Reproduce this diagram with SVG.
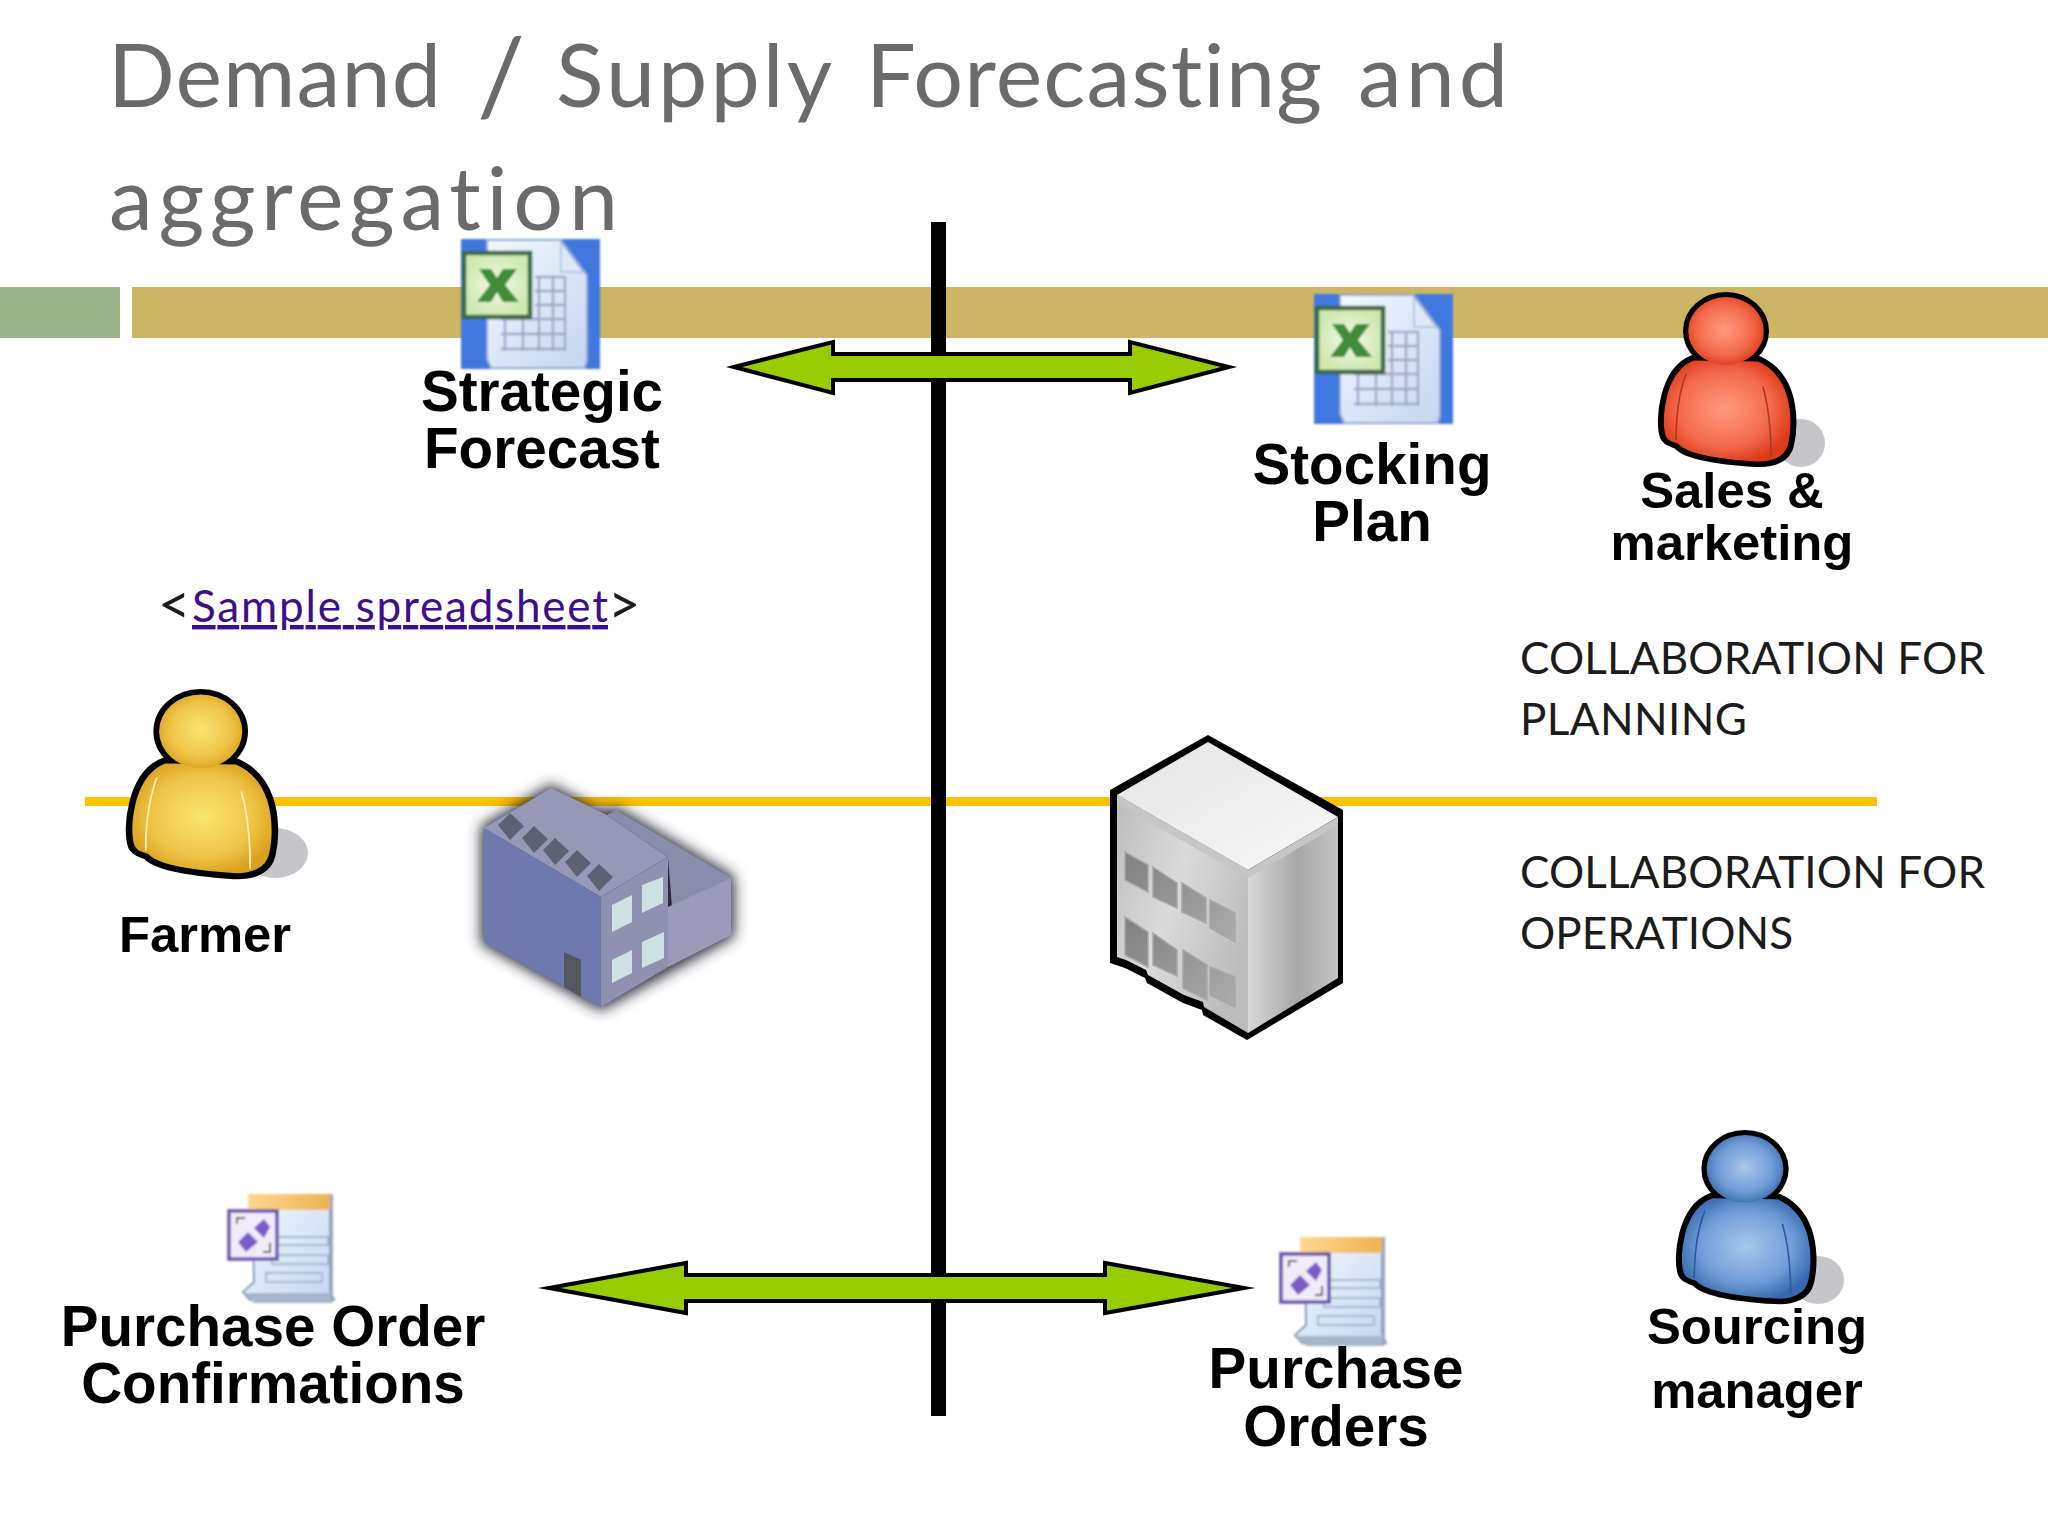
<svg xmlns="http://www.w3.org/2000/svg" xmlns:xlink="http://www.w3.org/1999/xlink" width="2048" height="1536" viewBox="0 0 2048 1536">
<style>
.title{font-family:"Lato","Noto Sans",sans-serif;font-size:88px;fill:#6b6b6b;font-variant-ligatures:none}
.lbl{font-family:"Liberation Sans",Arial,sans-serif;font-weight:700;fill:#000;text-anchor:middle}
.l56{font-size:56.6px}.l50{font-size:50.8px}
.note{font-family:"Lato","Noto Sans",sans-serif;font-size:44px;fill:#1c1c1c}
.link{fill:#3d0f8c;text-decoration:underline}
.arrow{fill:#99cc00;stroke:#000;stroke-width:4;stroke-linejoin:miter;stroke-miterlimit:10}
.skin{fill:#000;stroke:#000;stroke-width:8;stroke-linejoin:round}
.crease{fill:none;stroke-width:1.6;stroke-linecap:round}
.shadow{fill:#c6c6ca}
.win{fill:url(#winG);stroke:#a8a8a8;stroke-width:1.5}
</style>
<defs>
<radialGradient id="red" cx="0.48" cy="0.48" r="0.56"><stop offset="0" stop-color="#ff9a80"/><stop offset="0.65" stop-color="#f46a4c"/><stop offset="1" stop-color="#dc3a18"/></radialGradient>
<radialGradient id="yel" cx="0.5" cy="0.48" r="0.56"><stop offset="0" stop-color="#fbe372"/><stop offset="0.65" stop-color="#efc548"/><stop offset="1" stop-color="#d9a01c"/></radialGradient>
<radialGradient id="blu" cx="0.5" cy="0.48" r="0.56"><stop offset="0" stop-color="#a8c8ec"/><stop offset="0.65" stop-color="#6f9cd6"/><stop offset="1" stop-color="#3568b0"/></radialGradient>
<linearGradient id="roofG" x1="0" y1="0" x2="1" y2="1"><stop offset="0" stop-color="#e4e4e4"/><stop offset="1" stop-color="#f8f8f8"/></linearGradient>
<linearGradient id="leftG" x1="0" y1="0" x2="1" y2="0.6"><stop offset="0" stop-color="#bdbdbd"/><stop offset="0.5" stop-color="#dadada"/><stop offset="1" stop-color="#bcbcbc"/></linearGradient>
<linearGradient id="rightG" x1="0" y1="0" x2="1" y2="0"><stop offset="0" stop-color="#d8d8d8"/><stop offset="0.55" stop-color="#a8a8a8"/><stop offset="1" stop-color="#c4c4c4"/></linearGradient>
<linearGradient id="winG" x1="0" y1="0" x2="1" y2="1"><stop offset="0" stop-color="#808080"/><stop offset="1" stop-color="#ababab"/></linearGradient>
<linearGradient id="pageG" x1="0" y1="0" x2="1" y2="1"><stop offset="0" stop-color="#f4f8fe"/><stop offset="1" stop-color="#c4d6f0"/></linearGradient>
<linearGradient id="hdrG" x1="0" y1="0" x2="1" y2="0"><stop offset="0" stop-color="#fdd890"/><stop offset="1" stop-color="#f0b050"/></linearGradient>
<radialGradient id="xlG"><stop offset="0" stop-color="#f4fbe4"/><stop offset="1" stop-color="#cfe8b0"/></radialGradient>
<filter id="blur6" x="-20%" y="-20%" width="140%" height="140%"><feGaussianBlur stdDeviation="7"/></filter>
<filter id="soft" x="-5%" y="-5%" width="110%" height="110%"><feGaussianBlur stdDeviation="0.9"/></filter>
<path id="pBody" d="M34 66C18 72 10 88 6 104C2 120 2 136 5 144C8 150 14 150 18 152C24 160 50 167 97 170C115 171 128 165 131 152C135 135 134 115 129 100C124 85 115 74 100 67Z"/>
<ellipse id="pHead" cx="67" cy="38" rx="39" ry="35"/>
<g id="pOuter" class="skin"><use href="#pBody"/><use href="#pHead"/></g>
<g id="pInner">
<use href="#pBody" transform="translate(68 118) scale(.97 .97) translate(-68 -118)"/>
<use href="#pHead" transform="translate(67 38) scale(.97 .97) translate(-67 -38)"/>
</g>
<g id="xl">
<rect width="139" height="130" fill="#3f78e0"/>
<path d="M26 1H100L126 36V122L124 129H30L26 120Z" fill="url(#pageG)" stroke="#8ea8d4" stroke-width="2"/>
<path d="M100 3L122 33H100Z" fill="#dfe8f6" stroke="#8ea8d4" stroke-width="1"/>
<g stroke="#a0a8c8" stroke-width="2.4" fill="none">
<path d="M40 110H105M40 95H105M40 80H105M74 38H105M74 52H105M74 66H105"/>
<path d="M44 80V112M62 80V112M78 38V112M92 38V112M104 38V112"/>
</g>
<rect x="3" y="14" width="66" height="64" fill="url(#xlG)" stroke="#3a6a46" stroke-width="4.5"/>
<path d="M18 30L30 30L36 39L42 30L56 30L44 46L58 63L42 63L36 53L30 63L16 63L29 46Z" fill="#3f8c38"/>
</g>
<g id="doc">
<path d="M25 5H102V98L106 108H22L15 100L26 90Z" fill="url(#pageG)" stroke="#8898b8" stroke-width="2"/>
<path d="M18 101H104V111H26Z" fill="#a6b4cc"/>
<rect x="20" y="2" width="84" height="16" fill="url(#hdrG)"/>
<path d="M102 2h3v108h-3z" fill="#9aa8c0"/>
<g fill="none" stroke="#a4b8d4" stroke-width="2">
<rect x="44" y="45" width="56" height="8"/><rect x="44" y="63" width="56" height="9"/><rect x="38" y="81" width="56" height="9"/>
</g>
<rect x="1" y="19" width="48" height="48" fill="#f0ecfa" stroke="#6a52a8" stroke-width="3.5"/>
<path d="M26 36L36 27L42 35L36 46ZM10 50L20 40L30 50L18 60Z" fill="#7a5cc8"/>
<path d="M9 32V26H17M35 60H42V51" stroke="#555" stroke-width="2" fill="none"/>
</g>
</defs>

<rect width="2048" height="1536" fill="#fff"/>
<rect x="0" y="287" width="120" height="51" fill="#9db58c"/>
<rect x="132" y="287" width="1916" height="51" fill="#cdb565"/>
<rect x="85" y="797" width="1792" height="9" fill="#ffc000"/>

<g id="title">
<text class="title" y="107"><tspan x="108" textLength="333" lengthAdjust="spacing">Demand</tspan><tspan x="477" y="114" font-size="106" textLength="48" lengthAdjust="spacingAndGlyphs">/</tspan><tspan x="556" y="107" textLength="276" lengthAdjust="spacing">Supply</tspan><tspan x="866" textLength="456" lengthAdjust="spacing">Forecasting</tspan><tspan x="1358" textLength="150" lengthAdjust="spacing">and</tspan></text>
<text class="title" x="109" y="230" textLength="509" lengthAdjust="spacing">aggregation</text>
</g>

<g id="connectors">
<rect x="931" y="222" width="15" height="1194" fill="#000"/>
<path class="arrow" d="M734 367L833 342V354H1130V342L1229 367L1130 393V380H833V393Z"/>
<path class="arrow" d="M549 1288L686 1263V1275H1105V1263L1244 1288L1105 1313V1301H686V1313Z"/>
</g>

<g id="strategic-forecast">
<use href="#xl" x="461" y="239" filter="url(#soft)"/>
<text class="lbl l56" x="542" y="411">Strategic</text>
<text class="lbl l56" x="542" y="468">Forecast</text>
</g>
<g id="stocking-plan">
<use href="#xl" x="1314" y="294" filter="url(#soft)"/>
<text class="lbl l56" x="1372" y="484">Stocking</text>
<text class="lbl l56" x="1372" y="541">Plan</text>
</g>
<g id="sales-marketing">
<ellipse class="shadow" cx="1801" cy="443" rx="24" ry="24"/>
<g transform="translate(1659 293)"><use href="#pOuter"/><use href="#pInner" fill="url(#red)"/>
<path class="crease" stroke="#b03a1e" d="M27 81C20 100 17 125 17 147M104 94C110 115 112 140 112 164"/></g>
<text class="lbl l50" x="1732" y="508">Sales &amp;</text>
<text class="lbl l50" x="1732" y="560">marketing</text>
</g>
<g id="sample-link">
<text class="note" y="622"><tspan x="158" y="624" font-size="56">&lt;</tspan><tspan class="link" x="192" y="622" textLength="416" lengthAdjust="spacing">Sample spreadsheet</tspan><tspan x="608" y="624" font-size="56">&gt;</tspan></text>
</g>
<g id="collab-planning">
<text class="note" x="1520" y="674" textLength="465" lengthAdjust="spacing">COLLABORATION FOR</text>
<text class="note" x="1520" y="735" textLength="227" lengthAdjust="spacing">PLANNING</text>
</g>
<g id="collab-operations">
<text class="note" x="1520" y="888" textLength="465" lengthAdjust="spacing">COLLABORATION FOR</text>
<text class="note" x="1520" y="949" textLength="273" lengthAdjust="spacing">OPERATIONS</text>
</g>
<g id="farmer">
<ellipse class="shadow" cx="275" cy="853" rx="33" ry="25"/>
<g transform="translate(127 690) scale(1.1 1.087)"><use href="#pOuter"/><use href="#pInner" fill="url(#yel)"/>
<path class="crease" stroke="#fff3b8" d="M27 81C20 100 17 125 17 147M104 94C110 115 112 140 112 164"/></g>
<text class="lbl l50" x="205" y="952">Farmer</text>
</g>
<g id="factory">
<path d="M484 828L551 788L599 813L616 810L731 878V935L601 1007L484 942Z" fill="#2c2c3a" stroke="#2c2c3a" stroke-width="6" filter="url(#blur6)"/>
<path d="M484 828L601 897V1007L484 942Z" fill="#6f79ad"/>
<path d="M484 828L551 788L607 815L668 857L601 897Z" fill="#9698b6"/>
<path d="M601 897L668 857V967L601 1007Z" fill="#9090b0"/>
<path d="M607 815L616 810L731 878L672 907L668 857Z" fill="#8a8cac"/>
<path d="M668 907L731 878V935L668 967Z" fill="#9b9bb9"/>
<g fill="#5e6270">
<path d="M498 825L510 813L524 826L510 840ZM522 838L534 826L548 839L534 853ZM543 850L555 838L569 851L555 865ZM565 862L577 850L591 863L577 877ZM587 876L599 864L613 877L599 891Z"/>
</g>
<g fill="#cfe0e2">
<path d="M612 905L632 895V922L612 932ZM642 885L663 877V903L642 913ZM612 960L632 950V973L612 983ZM642 942L664 932V958L642 968Z"/>
</g>
<path d="M564 952L581 960V997L564 987Z" fill="#555760"/>
</g>
<g id="warehouse">
<path d="M1208 735L1343 810V983L1247 1040L1203 1015L1202 1010L1183 1003L1147 983L1145 978L1125 968L1110 963V790Z" fill="#000"/>
<path d="M1117 795L1248 870V1033L1204 1007L1203 1002L1184 995L1148 975L1146 970L1126 960L1117 957Z" fill="url(#leftG)"/>
<path d="M1248 875L1338 820V978L1248 1033Z" fill="url(#rightG)"/>
<path d="M1117 795L1208 742L1338 817L1248 870Z" fill="url(#roofG)"/>
<path d="M1117 795L1248 870L1338 817V825L1248 878L1117 804Z" fill="#c6c6c6"/>
<path class="win" d="M1125 852L1148 865V892L1125 880ZM1153 867L1177 883V908L1153 897ZM1182 883L1206 898V923L1182 912ZM1210 900L1235 913V942L1210 928Z"/>
<path class="win" d="M1125 917L1148 932V967L1125 955ZM1153 933L1177 950V976L1153 965ZM1183 950L1207 965V1000L1183 988ZM1210 967L1235 977V1007L1210 995Z"/>
</g>
<g id="purchase-order-confirmations">
<use href="#doc" x="228" y="1192" filter="url(#soft)"/>
<text class="lbl l56" x="273" y="1346">Purchase Order</text>
<text class="lbl l56" x="273" y="1403">Confirmations</text>
</g>
<g id="purchase-orders">
<use href="#doc" x="1280" y="1235" filter="url(#soft)"/>
<text class="lbl l56" x="1336" y="1388">Purchase</text>
<text class="lbl l56" x="1336" y="1446">Orders</text>
</g>
<g id="sourcing-manager">
<ellipse class="shadow" cx="1818" cy="1280" rx="26" ry="24"/>
<g transform="translate(1677 1131) scale(1.015 0.995)"><use href="#pOuter"/><use href="#pInner" fill="url(#blu)"/>
<path class="crease" stroke="#2c5a9c" d="M27 81C20 100 17 125 17 147M104 94C110 115 112 140 112 164"/></g>
<text class="lbl l50" x="1757" y="1344">Sourcing</text>
<text class="lbl l50" x="1757" y="1408">manager</text>
</g>
</svg>
